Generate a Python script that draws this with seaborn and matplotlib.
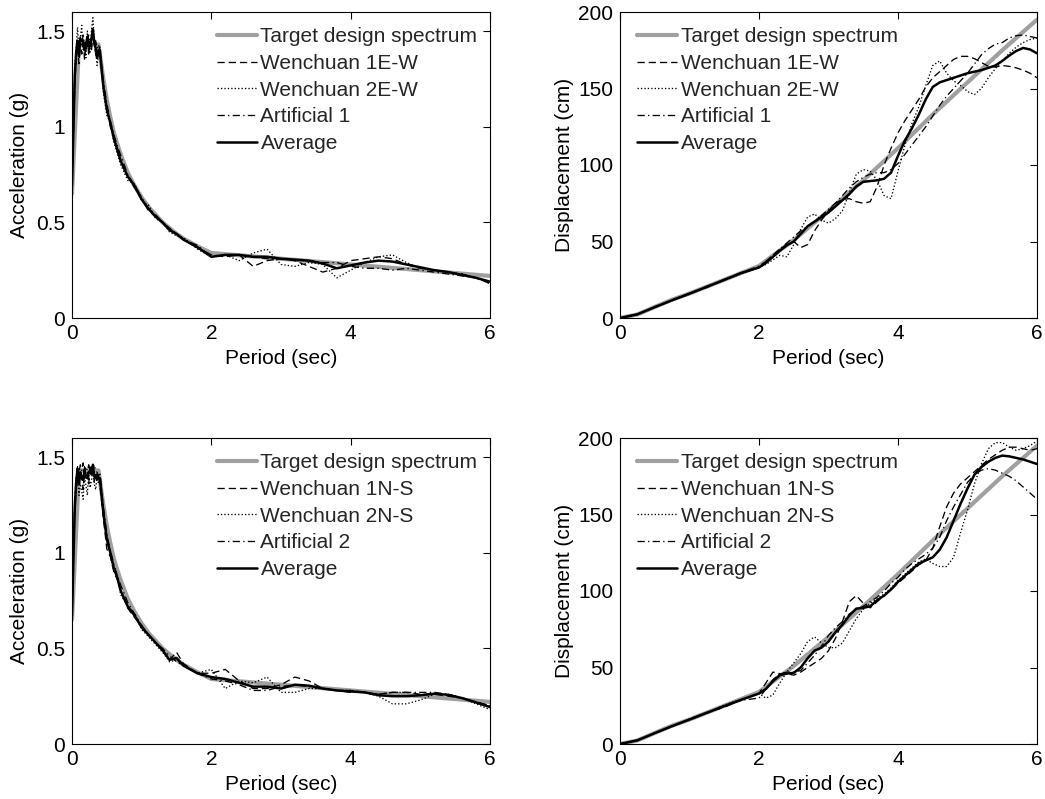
import numpy as np
import matplotlib
matplotlib.use("Agg")
import matplotlib.pyplot as plt
import seaborn as sns

# ---------------- data ----------------
# Target design spectrum (acceleration, g)
T_tgt_acc = [0, 0.1, 0.38, 0.45, 0.5, 0.55, 0.6, 0.65, 0.7, 0.8, 0.9, 1.0, 1.1, 1.2,
             1.3, 1.4, 1.5, 1.6, 1.8, 2.0, 6.0]
Sa_target = [0.65, 1.43, 1.43, 1.25, 1.14, 1.05, 0.97, 0.91, 0.855, 0.76, 0.69, 0.63,
             0.58, 0.54, 0.50, 0.47, 0.44, 0.415, 0.375, 0.34, 0.22]

# Target design spectrum (displacement, cm)
T_tgt_disp = [0, 0.25, 0.5, 0.75, 1.0, 1.25, 1.5, 1.75, 2.0, 2.5, 3.0, 3.5, 4.0, 4.5,
              5.0, 5.5, 6.0]
Sd_target = [0, 2.3, 7.2, 12, 16, 20.5, 25, 29.5, 34, 51, 70, 90, 111, 133, 154, 175, 195]

# Period grid for the acceleration records
T_acc = [0, 0.02, 0.04, 0.06, 0.08, 0.1, 0.12, 0.14, 0.16, 0.18, 0.2, 0.22, 0.24, 0.26,
         0.28, 0.3, 0.32, 0.34, 0.36, 0.38, 0.4, 0.45, 0.5, 0.55, 0.6, 0.65, 0.7, 0.8,
         0.9, 1.0, 1.1, 1.2, 1.3, 1.4, 1.5, 1.6, 1.8, 2.0, 2.2, 2.4, 2.6, 2.8, 3.0, 3.2,
         3.4, 3.6, 3.8, 4.0, 4.2, 4.4, 4.6, 4.8, 5.0, 5.2, 5.4, 5.6, 5.8, 6.0]

# E-W acceleration records (g)
acc_w1_ew = [0.68, 0.95, 1.22, 1.36, 1.40, 1.33, 1.44, 1.38, 1.46, 1.35, 1.42, 1.48, 1.37,
             1.45, 1.40, 1.49, 1.43, 1.38, 1.36, 1.40, 1.38, 1.22, 1.10, 1.00, 0.95, 0.88,
             0.82, 0.74, 0.68, 0.62, 0.56, 0.53, 0.50, 0.46, 0.44, 0.41, 0.37, 0.33, 0.32,
             0.33, 0.27, 0.30, 0.31, 0.30, 0.27, 0.24, 0.26, 0.30, 0.31, 0.32, 0.31, 0.28,
             0.26, 0.25, 0.24, 0.23, 0.21, 0.18]
acc_w2_ew = [0.66, 0.98, 1.30, 1.42, 1.52, 1.38, 1.47, 1.53, 1.40, 1.44, 1.36, 1.50, 1.42,
             1.39, 1.51, 1.57, 1.45, 1.41, 1.32, 1.38, 1.42, 1.18, 1.06, 1.02, 0.92, 0.86,
             0.80, 0.72, 0.70, 0.61, 0.59, 0.52, 0.50, 0.45, 0.43, 0.42, 0.36, 0.32, 0.33,
             0.30, 0.34, 0.36, 0.28, 0.27, 0.29, 0.28, 0.21, 0.25, 0.29, 0.32, 0.33, 0.29,
             0.26, 0.25, 0.24, 0.23, 0.21, 0.18]
acc_art1 = [0.72, 1.00, 1.28, 1.40, 1.44, 1.41, 1.47, 1.43, 1.48, 1.42, 1.46, 1.44, 1.48,
            1.43, 1.46, 1.47, 1.44, 1.45, 1.41, 1.43, 1.40, 1.24, 1.12, 1.03, 0.96, 0.90,
            0.85, 0.75, 0.69, 0.63, 0.57, 0.54, 0.50, 0.47, 0.44, 0.41, 0.38, 0.32, 0.33,
            0.33, 0.32, 0.31, 0.31, 0.30, 0.30, 0.29, 0.29, 0.27, 0.26, 0.26, 0.25, 0.26,
            0.25, 0.24, 0.23, 0.22, 0.21, 0.19]
acc_avg_ew = [0.69, 0.98, 1.27, 1.39, 1.45, 1.37, 1.46, 1.45, 1.45, 1.40, 1.41, 1.47, 1.42,
              1.42, 1.46, 1.51, 1.44, 1.41, 1.36, 1.40, 1.40, 1.21, 1.09, 1.02, 0.94, 0.88,
              0.82, 0.74, 0.69, 0.62, 0.57, 0.53, 0.50, 0.46, 0.44, 0.41, 0.37, 0.32, 0.33,
              0.33, 0.32, 0.32, 0.31, 0.305, 0.30, 0.285, 0.26, 0.275, 0.29, 0.30, 0.295,
              0.28, 0.265, 0.25, 0.24, 0.225, 0.21, 0.19]

# N-S acceleration records (g)
acc_w1_ns = [0.67, 0.96, 1.25, 1.38, 1.44, 1.36, 1.43, 1.40, 1.33, 1.45, 1.39, 1.42, 1.36,
             1.46, 1.40, 1.43, 1.37, 1.41, 1.38, 1.40, 1.36, 1.18, 1.02, 0.98, 0.90, 0.86,
             0.80, 0.71, 0.66, 0.62, 0.57, 0.53, 0.49, 0.44, 0.48, 0.42, 0.37, 0.37, 0.39,
             0.33, 0.29, 0.29, 0.31, 0.35, 0.33, 0.29, 0.28, 0.28, 0.27, 0.26, 0.27, 0.27,
             0.26, 0.26, 0.25, 0.24, 0.22, 0.20]
acc_w2_ns = [0.65, 0.94, 1.20, 1.33, 1.38, 1.30, 1.36, 1.32, 1.28, 1.40, 1.35, 1.30, 1.42,
             1.34, 1.38, 1.44, 1.36, 1.33, 1.40, 1.36, 1.38, 1.20, 1.08, 1.00, 0.92, 0.87,
             0.78, 0.72, 0.68, 0.60, 0.56, 0.52, 0.48, 0.43, 0.44, 0.41, 0.37, 0.39, 0.29,
             0.33, 0.32, 0.35, 0.27, 0.27, 0.29, 0.29, 0.28, 0.28, 0.27, 0.25, 0.21, 0.21,
             0.23, 0.26, 0.26, 0.24, 0.21, 0.18]
acc_art2 = [0.70, 0.99, 1.28, 1.40, 1.45, 1.42, 1.46, 1.43, 1.47, 1.41, 1.45, 1.43, 1.46,
            1.42, 1.45, 1.44, 1.46, 1.43, 1.42, 1.40, 1.42, 1.24, 1.10, 1.01, 0.94, 0.88,
            0.83, 0.74, 0.68, 0.62, 0.57, 0.53, 0.50, 0.46, 0.43, 0.41, 0.37, 0.34, 0.33,
            0.31, 0.28, 0.28, 0.30, 0.31, 0.30, 0.29, 0.28, 0.27, 0.27, 0.26, 0.27, 0.27,
            0.27, 0.27, 0.26, 0.24, 0.22, 0.20]
acc_avg_ns = [0.67, 0.96, 1.24, 1.37, 1.44, 1.36, 1.42, 1.39, 1.38, 1.43, 1.40, 1.39, 1.42,
              1.43, 1.41, 1.46, 1.40, 1.39, 1.41, 1.39, 1.39, 1.21, 1.07, 1.00, 0.92, 0.87,
              0.80, 0.72, 0.67, 0.61, 0.57, 0.53, 0.49, 0.44, 0.45, 0.41, 0.37, 0.35, 0.34,
              0.32, 0.30, 0.30, 0.29, 0.31, 0.305, 0.29, 0.28, 0.275, 0.27, 0.255, 0.25,
              0.25, 0.255, 0.263, 0.257, 0.24, 0.217, 0.193]

# Period grid for the displacement records
T_disp = [0, 0.25, 0.5, 0.75, 1.0, 1.25, 1.5, 1.75,
          2.0, 2.1, 2.2, 2.3, 2.4, 2.5, 2.6, 2.7, 2.8, 2.9, 3.0, 3.1, 3.2, 3.3, 3.4, 3.5,
          3.6, 3.7, 3.8, 3.9, 4.0, 4.1, 4.2, 4.3, 4.4, 4.5, 4.6, 4.7, 4.8, 4.9, 5.0, 5.1,
          5.2, 5.3, 5.4, 5.5, 5.6, 5.7, 5.8, 5.9, 6.0]

# E-W displacement records (cm)
disp_w1_ew = [0, 2.4, 7.0, 11.8, 16.2, 20.0, 25.0, 29.8,
              33, 37, 41, 45, 48, 50, 46, 48, 57, 64, 70, 75, 77.5, 78, 76, 75,
              76, 86, 100, 111, 121, 129, 136, 143, 151, 157, 161, 165, 169, 171, 171, 169.5,
              167, 164.5, 164, 165, 164.5, 163.5, 162, 160, 157]
disp_w2_ew = [0, 2.2, 7.3, 11.4, 15.6, 20.8, 24.6, 29.0,
              33, 35, 38, 41, 40, 48, 58, 66, 68, 64, 62, 65, 70, 82, 94, 97,
              96, 90, 80, 78, 96, 113, 127, 138, 152, 165, 168, 160, 155, 152, 148, 146,
              150, 157, 163, 168, 173, 177, 180, 182, 183]
disp_art1 = [0, 2.5, 7.1, 11.6, 16.0, 20.4, 25.2, 29.6,
             34, 37, 41, 45, 49, 53, 57, 60, 63, 67, 71, 75, 80, 85, 89, 92,
             94, 95, 95, 97, 101, 107, 113, 119, 125, 132, 139, 145, 150, 155, 160, 166,
             172, 176, 179, 180, 183, 184.5, 185, 184, 183]
disp_avg_ew = [0, 2.4, 7.1, 11.6, 15.9, 20.4, 24.9, 29.5,
               33, 36, 40, 44, 47.5, 50, 55, 60, 63, 66, 69, 73, 77, 81, 86, 89,
               89.5, 90, 91, 95, 106, 116, 124, 133, 143, 151, 154, 155.5, 157, 158.5, 160,
               161, 162, 163.5, 165, 168, 171.5, 174.5, 176.5, 175.5, 173]

# N-S displacement records (cm)
disp_w1_ns = [0, 2.4, 7.2, 11.5, 16.3, 20.6, 24.0, 29.0,
              33, 40, 47, 46, 46, 45, 47, 50, 53, 56, 61, 69, 80, 93, 97, 92,
              89, 93, 97, 101, 105, 109, 113, 117, 120, 128, 142, 155, 164, 170, 174, 178,
              182, 186, 189, 192, 194, 194, 193, 192, 193]
disp_w2_ns = [0, 2.2, 7.0, 11.9, 15.8, 20.2, 25.5, 29.3,
              33, 30, 32, 40, 47, 53, 59, 67, 70, 66, 63, 63, 66, 74, 82, 88,
              92, 95, 98, 102, 107, 111, 115, 119, 121, 118, 116, 116, 122, 138, 153, 170,
              183, 193, 197, 197, 194, 192, 193, 195, 198]
disp_art2 = [0, 2.5, 7.1, 11.7, 16.0, 20.3, 24.8, 28.6,
             30, 36, 42, 46, 47, 47, 48, 53, 58, 64, 71, 76, 80, 85, 88, 90,
             93, 96, 100, 105, 109, 114, 118, 121, 124, 128, 135, 146, 155, 163, 171, 176,
             179, 180, 179, 177, 175, 172, 168, 164, 160]
disp_avg_ns = [0, 2.4, 7.1, 11.7, 16.0, 20.4, 24.8, 29.0,
               33, 36, 41, 45, 46, 46.5, 50, 56, 61, 63, 67, 73, 78, 84, 88.5, 89,
               90, 94, 97, 101, 106, 110, 114, 118, 120, 122, 127, 135, 146, 157, 167, 176,
               181, 184.5, 187, 188.5, 188, 187, 186, 184.5, 183]

# ---------------- style ----------------
sns.set_theme(style="white")
plt.rcParams["font.family"] = ["Liberation Sans", "DejaVu Sans"]
plt.rcParams["axes.edgecolor"] = "black"
plt.rcParams["axes.linewidth"] = 0.8

FS = 15
GRAY = "#a0a0a0"

fig = plt.figure(figsize=(10.45, 7.99), dpi=100)
W, H = 1045.0, 799.0
axes_px = {
    "tl": (72, 12, 490, 318),
    "tr": (620, 12, 1037, 318),
    "bl": (72, 438, 490, 744),
    "br": (620, 438, 1037, 744),
}


def make_ax(key):
    x0, y0, x1, y1 = axes_px[key]
    return fig.add_axes([x0 / W, 1 - y1 / H, (x1 - x0) / W, (y1 - y0) / H])


def draw(ax, T_t, tgt, T_r, recs, labels, ylab, ylim, yticks, leg_loc, leg_anchor, ylab_x):
    sns.lineplot(x=T_t, y=tgt, ax=ax, color=GRAY, linewidth=3.0, estimator=None,
                 label="Target design spectrum")
    styles = [(0, (5.5, 3.0)), (0, (1.0, 1.6)), (0, (5.5, 2.5, 1.0, 2.5)), "-"]
    widths = [0.95, 0.95, 0.95, 1.8]
    for rec, lab, ls, lw in zip(recs, labels, styles, widths):
        sns.lineplot(x=T_r, y=rec, ax=ax, color="black", linewidth=lw, linestyle=ls,
                     estimator=None, label=lab)
    ax.set_xlim(0, 6)
    ax.set_ylim(*ylim)
    ax.set_xticks([0, 2, 4, 6])
    ax.set_yticks(yticks)
    ax.set_yticklabels([("%g" % v) for v in yticks])
    ax.tick_params(direction="in", top=True, right=True, length=5, width=0.8,
                   labelsize=FS, colors="black", pad=5)
    ax.tick_params(axis="x", pad=4)
    ax.set_xlabel("Period (sec)", fontsize=FS, color="black")
    ax.set_ylabel(ylab, fontsize=FS, color="black")
    ax.xaxis.set_label_coords(0.5, -0.100)
    ax.yaxis.set_label_coords(ylab_x, 0.5)
    for s in ax.spines.values():
        s.set_color("black")
        s.set_linewidth(0.8)
    ax.legend(loc=leg_loc, bbox_to_anchor=leg_anchor, frameon=False, fontsize=FS,
              handlelength=1.92, handletextpad=0.18, labelspacing=0.37,
              borderpad=0, borderaxespad=0)


ax = make_ax("tl")
draw(ax, T_tgt_acc, Sa_target, T_acc, [acc_w1_ew, acc_w2_ew, acc_art1, acc_avg_ew],
     ["Wenchuan 1E-W", "Wenchuan 2E-W", "Artificial 1", "Average"],
     "Acceleration (g)", (0, 1.6), [0, 0.5, 1, 1.5], "upper right", (0.970, 0.950), -0.103)

ax = make_ax("tr")
draw(ax, T_tgt_disp, Sd_target, T_disp, [disp_w1_ew, disp_w2_ew, disp_art1, disp_avg_ew],
     ["Wenchuan 1E-W", "Wenchuan 2E-W", "Artificial 1", "Average"],
     "Displacement (cm)", (0, 200), [0, 50, 100, 150, 200], "upper left", (0.041, 0.950), -0.110)

ax = make_ax("bl")
draw(ax, T_tgt_acc, Sa_target, T_acc, [acc_w1_ns, acc_w2_ns, acc_art2, acc_avg_ns],
     ["Wenchuan 1N-S", "Wenchuan 2N-S", "Artificial 2", "Average"],
     "Acceleration (g)", (0, 1.6), [0, 0.5, 1, 1.5], "upper right", (0.970, 0.950), -0.103)

ax = make_ax("br")
draw(ax, T_tgt_disp, Sd_target, T_disp, [disp_w1_ns, disp_w2_ns, disp_art2, disp_avg_ns],
     ["Wenchuan 1N-S", "Wenchuan 2N-S", "Artificial 2", "Average"],
     "Displacement (cm)", (0, 200), [0, 50, 100, 150, 200], "upper left", (0.041, 0.950), -0.110)

fig.savefig("out.png", dpi=100, facecolor="white")
